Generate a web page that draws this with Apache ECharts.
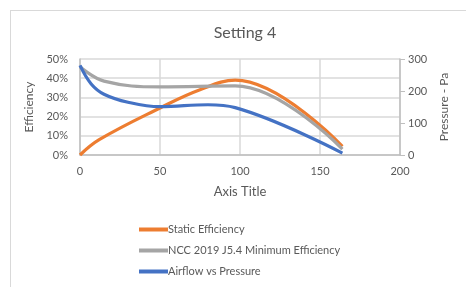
<!DOCTYPE html>
<html>
<head>
<meta charset="utf-8">
<script src="https://cdn.jsdelivr.net/npm/echarts@6/dist/echarts.min.js"></script>
<style>
  html, body { margin: 0; padding: 0; background: #fff; }
  #frame { position: absolute; left: 10px; top: 10px; width: 520px; height: 320px; border: 1px solid #d9d9d9; }
  #main { position: absolute; left: 0; top: 0; width: 466px; height: 287px; }
</style>
</head>
<body>
<div id="frame"></div>
<div id="main"></div>
<script>
  // 数据 (x, 值)
  const staticEff = [[0, 0], [12, 8], [50, 24.5], [75, 34], [97, 39], [164, 4.5]];
  const nccEff = [[0, 46], [15, 38.5], [50, 35.5], [97, 36], [164, 3]];
  const airflow = [[0, 280], [7, 222], [15, 190], [30, 165], [50, 151], [80, 157], [97, 148], [164, 6]];
  const seriesNames = ['Static Efficiency', 'NCC 2019 J5.4 Minimum Efficiency', 'Airflow vs Pressure'];

  const txt = '#595959';
  const font = 'Lato, "Open Sans", sans-serif';
  const myChart = echarts.init(document.getElementById('main'));

  const option = {
    animation: false,
    title: {
      text: 'Setting 4', left: 240, top: 20, textAlign: 'center',
      textStyle: { color: txt, fontSize: 16, fontWeight: 'normal', fontFamily: font }
    },
    grid: { left: 80, right: 66, top: 59, bottom: 132 },
    legend: {
      orient: 'vertical', left: 134, top: 219, itemGap: 10,
      itemWidth: 29, itemHeight: 4, icon: 'rect',
      textStyle: { color: txt, fontSize: 11, fontFamily: font, padding: [0, 0, 0, -5] },
      data: seriesNames
    },
    xAxis: {
      type: 'value', min: 0, max: 200, interval: 50,
      name: 'Axis Title', nameLocation: 'middle', nameGap: 30,
      nameTextStyle: { color: txt, fontSize: 13, fontFamily: font },
      axisLine: { lineStyle: { color: '#bfbfbf', width: 1.5 } },
      axisTick: { show: false },
      axisLabel: { color: txt, fontSize: 11, fontFamily: font, margin: 11 },
      splitLine: { show: true, lineStyle: { color: '#d9d9d9', width: 1.5 } }
    },
    yAxis: [
      {
        type: 'value', min: 0, max: 50, interval: 10,
        name: 'Efficiency', nameLocation: 'middle', nameGap: 43, nameRotate: 90,
        nameTextStyle: { color: txt, fontSize: 12, fontFamily: font },
        axisLine: { show: true, lineStyle: { color: '#bfbfbf', width: 1.5 } },
        axisTick: { show: false },
        axisLabel: { color: txt, fontSize: 11, fontFamily: font, margin: 12, formatter: '{value}%' },
        splitLine: { show: true, lineStyle: { color: '#d9d9d9', width: 1.5 } }
      },
      {
        type: 'value', min: 0, max: 300, interval: 100, position: 'right',
        name: 'Pressure - Pa', nameLocation: 'middle', nameGap: 38, nameRotate: 90,
        nameTextStyle: { color: txt, fontSize: 12, fontFamily: font },
        axisLine: { show: true, lineStyle: { color: '#bfbfbf', width: 1.5 } },
        axisTick: { show: true, length: 5, lineStyle: { color: '#bfbfbf' } },
        axisLabel: { color: txt, fontSize: 11, fontFamily: font, margin: 8 },
        splitLine: { show: false }
      }
    ],
    series: [
      {
        name: seriesNames[0], type: 'line', data: staticEff, yAxisIndex: 0,
        smooth: 0.4, showSymbol: false, symbol: 'none',
        lineStyle: { color: '#ED7D31', width: 3.2 }, itemStyle: { color: '#ED7D31' }
      },
      {
        name: seriesNames[1], type: 'line', data: nccEff, yAxisIndex: 0,
        smooth: 0.4, showSymbol: false, symbol: 'none',
        lineStyle: { color: '#A5A5A5', width: 3.2 }, itemStyle: { color: '#A5A5A5' }
      },
      {
        name: seriesNames[2], type: 'line', data: airflow, yAxisIndex: 1,
        smooth: 0.4, showSymbol: false, symbol: 'none',
        lineStyle: { color: '#4472C4', width: 3.2 }, itemStyle: { color: '#4472C4' }
      }
    ]
  };

  option && myChart.setOption(option);
</script>
</body>
</html>
